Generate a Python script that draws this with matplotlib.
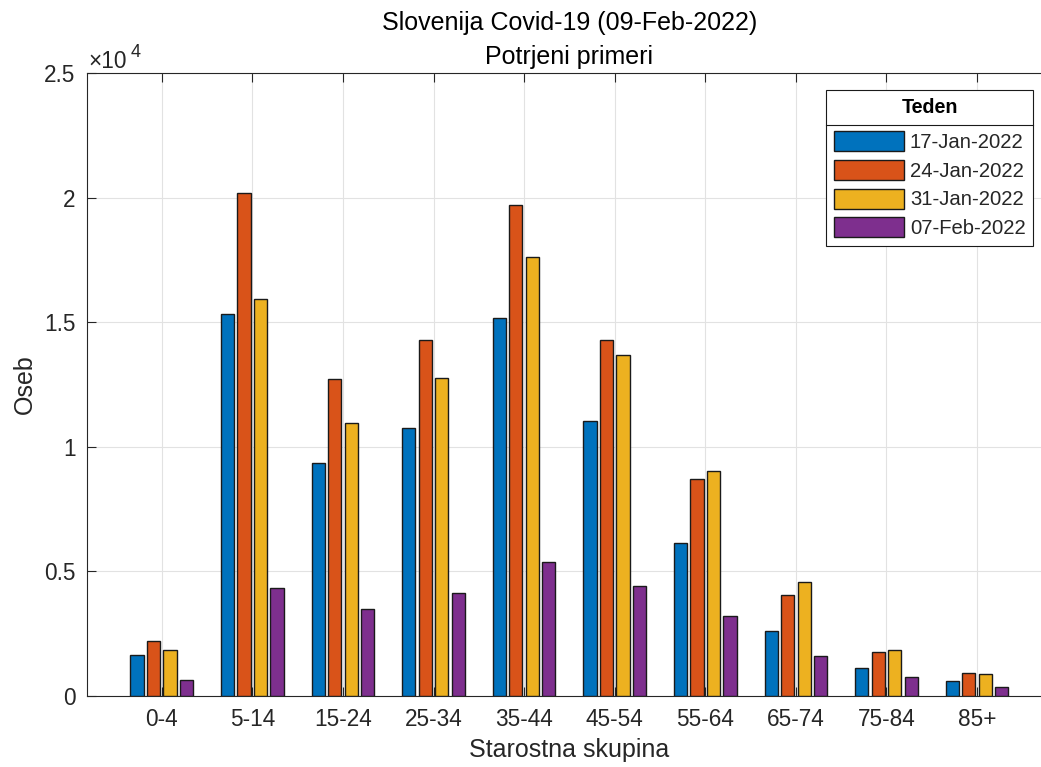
import matplotlib
matplotlib.use("Agg")
import matplotlib.pyplot as plt
from matplotlib.ticker import FuncFormatter
from matplotlib.lines import Line2D
import numpy as np

plt.rcParams['font.family'] = ['Liberation Sans', 'DejaVu Sans']

age_groups = ["0-4", "5-14", "15-24", "25-34", "35-44", "45-54", "55-64", "65-74", "75-84", "85+"]
weeks = ["17-Jan-2022", "24-Jan-2022", "31-Jan-2022", "07-Feb-2022"]
cases_17jan = [1620, 15330, 9340, 10750, 15180, 11030, 6120, 2600, 1130, 590]
cases_24jan = [2210, 20190, 12730, 14280, 19730, 14300, 8710, 4030, 1760, 900]
cases_31jan = [1850, 15940, 10970, 12780, 17640, 13670, 9030, 4560, 1840, 860]
cases_07feb = [630, 4340, 3500, 4130, 5360, 4420, 3220, 1610, 760, 340]
series = [cases_17jan, cases_24jan, cases_31jan, cases_07feb]
colors = ["#0072BD", "#D95319", "#EDB120", "#7E2F8E"]

W, H = 1041, 767
fig = plt.figure(figsize=(W / 100, H / 100), dpi=100)
ax = fig.add_axes([86.7 / W, (H - 695.7) / H, 965.4 / W, 622.4 / H])

n = len(series)
groupwidth = min(0.8, n / (n + 1.5))
barw = 0.8 * groupwidth / n
x = np.arange(1, len(age_groups) + 1)
for j, (vals, col, lab) in enumerate(zip(series, colors, weeks)):
    off = -groupwidth / 2 + groupwidth / (2 * n) + j * groupwidth / n
    ax.bar(x + off, vals, width=barw, color=col, edgecolor="#1a1a1a",
           linewidth=1.0, label=lab, zorder=3)

ax.set_xlim(0.172, 10.828)
ax.set_ylim(0, 25000)
ax.set_xticks(x)
ax.set_xticklabels(age_groups)
ax.set_yticks(np.arange(0, 25001, 5000))
ax.yaxis.set_major_formatter(FuncFormatter(lambda v, p: f"{v / 1e4:g}"))

tc = "#262626"
ax.grid(True, color="#e2e2e2", linewidth=0.8, zorder=0)
ax.set_axisbelow(True)
ax.tick_params(axis='both', direction='in', length=6.8, width=0.8, color=tc,
               labelcolor=tc, labelsize=16.3, top=True, right=True)
ax.tick_params(axis='x', pad=9)
ax.tick_params(axis='y', pad=8)
for s in ax.spines.values():
    s.set_color(tc)
    s.set_linewidth(0.8)

ax.set_xlabel("Starostna skupina", fontsize=18, color=tc, labelpad=5)
ax.set_ylabel("Oseb", fontsize=18, color=tc, labelpad=5)
ax.set_title("Slovenija Covid-19 (09-Feb-2022)\nPotrjeni primeri", fontsize=18,
             color="#000000", pad=6.5, linespacing=1.55)

ax.annotate("×10", xy=(0, 1), xycoords='axes fraction', xytext=(1, 4),
            textcoords='offset points', fontsize=16.3, color=tc, ha='left', va='baseline')
ax.annotate("4", xy=(0, 1), xycoords='axes fraction', xytext=(31.5, 12),
            textcoords='offset points', fontsize=13, color=tc, ha='left', va='baseline')

leg = ax.legend(loc='upper right', bbox_to_anchor=(1033.3 / W, 1 - 90 / H),
                bbox_transform=fig.transFigure, borderaxespad=0, fontsize=14.6,
                title="Teden", title_fontproperties={'weight': 'bold', 'size': 14.2},
                handlelength=3.45, handleheight=1.15, handletextpad=0.3,
                labelspacing=0.38, borderpad=0.38, fancybox=False, framealpha=1,
                edgecolor="#1a1a1a")
leg.get_frame().set_linewidth(0.8)
leg._legend_box.sep = 10.5
for t in leg.get_texts():
    t.set_color(tc)

fig.canvas.draw()
lb = leg.get_window_extent()
tb = leg.get_title().get_window_extent()
hb = leg.get_texts()[0].get_window_extent()
ysep = (tb.y0 + hb.y1) / 2
fig.add_artist(Line2D([lb.x0, lb.x1], [ysep, ysep], transform=None,
                      color="#1a1a1a", linewidth=0.8, zorder=10))

fig.savefig("out.png", dpi=100)
